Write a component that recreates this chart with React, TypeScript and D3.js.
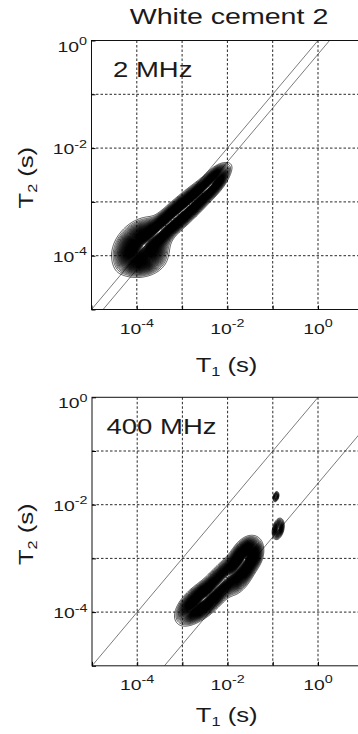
import { useRef, useEffect } from 'react';
import * as d3 from 'd3';

// decades shown on the axes (log10 of seconds)
const xDecades = [-5, -4, -3, -2, -1, 0, 1];
const yDecades = [-5, -4, -3, -2, -1, 0];
const xLabelDecades = [-4, -2, 0];
const yLabelDecades = [-4, -2, 0];

// 2 MHz panel: peaks of the T1-T2 map, log10 seconds
const topT1 = [-3.9, -3.85, -3.45, -3.0, -2.6, -2.3];
const topT2 = [-3.82, -4.05, -3.5, -3.17, -2.88, -2.62];
const topSpreadT1 = [0.24, 0.22, 0.32, 0.32, 0.26, 0.13];
const topSpreadT2 = [0.2, 0.14, 0.26, 0.26, 0.22, 0.13];
const topTilt = [0.3, 0.1, 0.88, 0.88, 0.88, 0.6];
const topHeight = [1.0, 0.35, 0.8, 0.8, 0.7, 0.5];
const topRatios = [1, 1.8];

// 400 MHz panel
const bottomT1 = [-2.6, -2.15, -1.7, -1.55, -0.88, -0.93];
const bottomT2 = [-3.8, -3.45, -3.15, -2.95, -2.45, -1.85];
const bottomSpreadT1 = [0.21, 0.3, 0.15, 0.13, 0.06, 0.035];
const bottomSpreadT2 = [0.16, 0.27, 0.2, 0.13, 0.09, 0.05];
const bottomTilt = [0.6, 0.85, 0.5, 0.2, 0.3, 0.3];
const bottomHeight = [1.0, 0.9, 0.85, 0.7, 0.3, 0.15];
const bottomRatios = [1, 40];

const panels = [
  { id: 'top', label: '2 MHz', left: 91.5, top: 40.5, dx: 45.3, dy: 53.8,
    t1: topT1, t2: topT2, sx: topSpreadT1, sy: topSpreadT2, rho: topTilt, amp: topHeight,
    ratios: topRatios, labelPos: [113, 77], xTitleY: 372 },
  { id: 'bottom', label: '400 MHz', left: 92, top: 397.3, dx: 45.2, dy: 53.7,
    t1: bottomT1, t2: bottomT2, sx: bottomSpreadT1, sy: bottomSpreadT2, rho: bottomTilt, amp: bottomHeight,
    ratios: bottomRatios, labelPos: [106.5, 433.5], xTitleY: 722 },
];

const FONT = '"Liberation Sans", Arial, sans-serif';
const STRETCH = 1.25;

function App() {
  const ref = useRef(null);

  useEffect(() => {
    const svg = d3.select(ref.current);
    svg.selectAll('*').remove();

    svg.append('text')
      .attr('transform', `translate(229,23.5) scale(1.3,1)`)
      .attr('text-anchor', 'middle')
      .attr('font-family', FONT)
      .attr('font-size', 22)
      .attr('fill', '#1a1a1a')
      .text('White cement 2');

    panels.forEach(p => {
      const w = p.dx * 6;
      const h = p.dy * 5;
      const x = d3.scaleLog().domain([1e-5, 10]).range([p.left, p.left + w]);
      const y = d3.scaleLog().domain([1e-5, 1]).range([p.top + h, p.top]);

      svg.append('clipPath').attr('id', 'clip-' + p.id)
        .append('rect').attr('x', p.left).attr('y', p.top).attr('width', w).attr('height', h);

      const g = svg.append('g');

      // dashed grid
      g.selectAll('.vgrid').data(xDecades.slice(1, -1)).enter().append('line')
        .attr('x1', d => x(10 ** d)).attr('x2', d => x(10 ** d))
        .attr('y1', p.top).attr('y2', p.top + h)
        .attr('stroke', '#111').attr('stroke-width', 0.9).attr('stroke-dasharray', '2.5,2');
      g.selectAll('.hgrid').data(yDecades.slice(1, -1)).enter().append('line')
        .attr('y1', d => y(10 ** d)).attr('y2', d => y(10 ** d))
        .attr('x1', p.left).attr('x2', p.left + w)
        .attr('stroke', '#111').attr('stroke-width', 0.9).attr('stroke-dasharray', '2.5,2');

      // T1 = ratio * T2 reference lines
      g.append('g').attr('clip-path', `url(#clip-${p.id})`)
        .selectAll('line').data(p.ratios).enter().append('line')
        .attr('x1', r => x(1e-5 * r)).attr('y1', y(1e-5))
        .attr('x2', r => x(10 * r)).attr('y2', y(10))
        .attr('stroke', '#222').attr('stroke-width', 0.6);

      // density grid in log space
      const step = 0.02;
      const nx = Math.round(6 / step);
      const ny = Math.round(5 / step);
      const values = new Array(nx * ny);
      for (let j = 0; j < ny; j++) {
        const ly = -5 + (j + 0.5) * step;
        for (let i = 0; i < nx; i++) {
          const lx = -5 + (i + 0.5) * step;
          let v = 0;
          for (let k = 0; k < p.t1.length; k++) {
            const a = (lx - p.t1[k]) / p.sx[k];
            const b = (ly - p.t2[k]) / p.sy[k];
            const r = p.rho[k];
            v += p.amp[k] * Math.exp(-(a * a - 2 * r * a * b + b * b) / (2 * (1 - r * r)));
          }
          values[i + j * nx] = v;
        }
      }
      const vmax = d3.max(values);
      const levels = d3.range(0.025, vmax, 0.012);
      const contours = d3.contours().size([nx, ny]).thresholds(levels)(values);
      const proj = d3.geoTransform({
        point: function (cx, cy) {
          this.stream.point(x(10 ** (-5 + cx * step)), y(10 ** (-5 + cy * step)));
        },
      });
      const path = d3.geoPath(proj);
      g.append('g').attr('clip-path', `url(#clip-${p.id})`)
        .selectAll('path').data(contours).enter().append('path')
        .attr('d', path)
        .attr('fill', 'none')
        .attr('stroke', '#000')
        .attr('stroke-width', 0.65);

      // frame and ticks
      g.append('rect').attr('x', p.left).attr('y', p.top).attr('width', w).attr('height', h)
        .attr('fill', 'none').attr('stroke', '#111').attr('stroke-width', 1);

      g.append('g').attr('transform', `translate(0,${p.top + h})`)
        .call(d3.axisBottom(x).tickValues(xDecades.map(d => 10 ** d)).tickSize(-4).tickFormat(() => ''))
        .call(a => a.select('.domain').remove());
      g.append('g').attr('transform', `translate(${p.left},0)`)
        .call(d3.axisLeft(y).tickValues(yDecades.map(d => 10 ** d)).tickSize(-4).tickFormat(() => ''))
        .call(a => a.select('.domain').remove());

      // tick labels as 10^n
      xLabelDecades.forEach(d => {
        const t = g.append('text')
          .attr('transform', `translate(${x(10 ** d)},${p.top + h + 24}) scale(${STRETCH},1)`)
          .attr('text-anchor', 'middle')
          .attr('font-family', FONT).attr('font-size', 15.5).attr('fill', '#1a1a1a');
        t.append('tspan').text('10');
        t.append('tspan').attr('dy', -6.5).attr('font-size', 11.5).text(String(d));
      });
      yLabelDecades.forEach(d => {
        const t = g.append('text')
          .attr('transform', `translate(${p.left - 4.5},${y(10 ** d) + (d === 0 ? 11 : 6)}) scale(${STRETCH},1)`)
          .attr('text-anchor', 'end')
          .attr('font-family', FONT).attr('font-size', 15.5).attr('fill', '#1a1a1a');
        t.append('tspan').text('10');
        t.append('tspan').attr('dy', -6.5).attr('font-size', 11.5).text(String(d));
      });

      // axis titles
      const xt = g.append('text')
        .attr('transform', `translate(${p.left + 2.98 * p.dx},${p.xTitleY}) scale(${STRETCH},1)`)
        .attr('text-anchor', 'middle')
        .attr('font-family', FONT).attr('font-size', 20.5).attr('fill', '#1a1a1a');
      xt.append('tspan').text('T');
      xt.append('tspan').attr('dy', 4).attr('font-size', 13).text('1');
      xt.append('tspan').attr('dy', -4).text(' (s)');

      const yt = g.append('text')
        .attr('transform', `translate(33,${p.top + 2.55 * p.dy}) rotate(-90) scale(${STRETCH},1)`)
        .attr('text-anchor', 'middle')
        .attr('font-family', FONT).attr('font-size', 20.5).attr('fill', '#1a1a1a');
      yt.append('tspan').text('T');
      yt.append('tspan').attr('dy', 4).attr('font-size', 13).text('2');
      yt.append('tspan').attr('dy', -4).text(' (s)');

      g.append('text')
        .attr('transform', `translate(${p.labelPos[0]},${p.labelPos[1]}) scale(${STRETCH},1)`)
        .attr('font-family', FONT).attr('font-size', 22).attr('fill', '#1a1a1a')
        .text(p.label);
    });
  }, []);

  return (
    <svg ref={ref} width={358} height={734}
      style={{ position: 'absolute', left: 0, top: 0, background: '#fff' }} />
  );
}

export default App;
